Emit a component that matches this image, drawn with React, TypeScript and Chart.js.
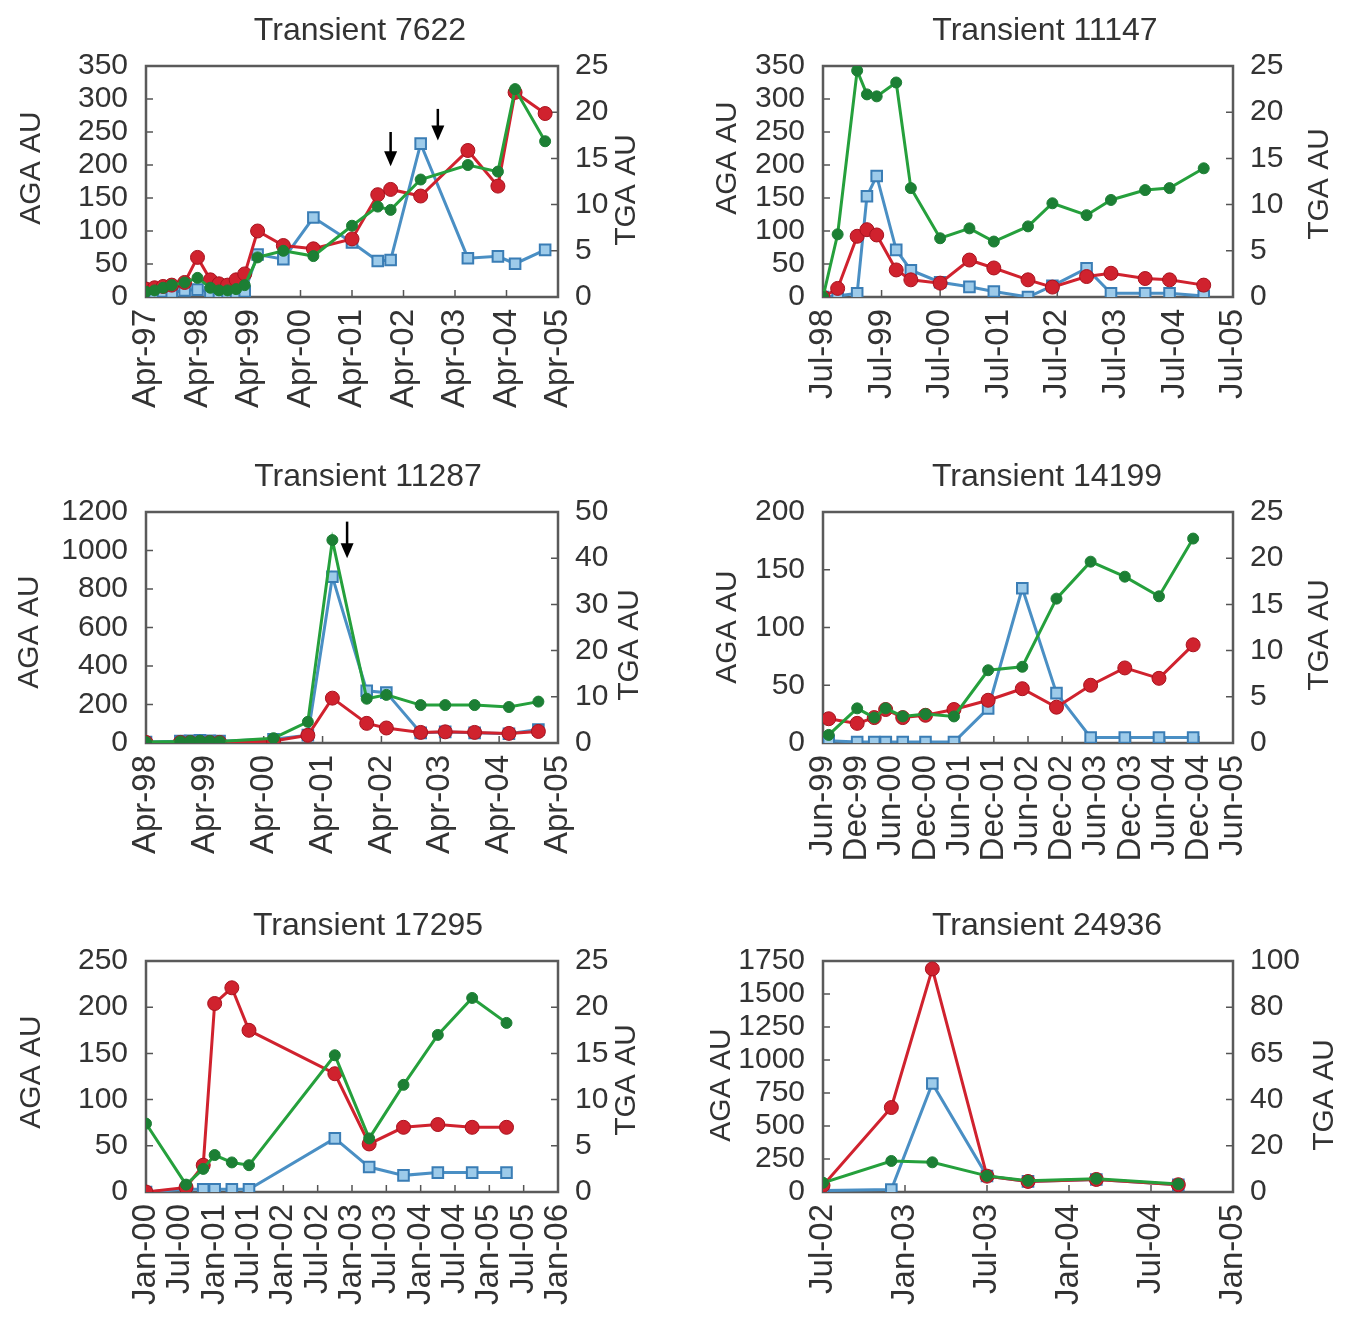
import React, { useEffect, useRef } from 'react';
import { Chart, registerables } from 'chart.js';
Chart.register(...registerables);

const FONT = "'Liberation Sans', Arial, Helvetica, sans-serif";
const MONTHS = ['Jan', 'Feb', 'Mar', 'Apr', 'May', 'Jun', 'Jul', 'Aug', 'Sep', 'Oct', 'Nov', 'Dec'];

const RED = '#d0222e';
const GREEN = '#25a03c';
const GREEN_PT = '#1c7f34';
const BLUE = '#4a8fc4';
const BLUE_FILL = '#9dcbea';
const BLUE_EDGE = '#3a7db5';
const TEXT = '#333';

// ---------- Transient 7622 ----------
const p1Title = 'Transient 7622';
const p1Dates = ['1997-04', '1997-06', '1997-08', '1997-10', '1998-01', '1998-04', '1998-07', '1998-09', '1998-11', '1999-01', '1999-03', '1999-06', '1999-12', '2000-07', '2001-04', '2001-10', '2002-01', '2002-08', '2003-07', '2004-02', '2004-06', '2005-01'];
const p1Red = [12, 14, 16, 18, 22, 60, 26, 20, 18, 26, 35, 100, 78, 73, 88, 155, 163, 153, 222, 168, 310, 278];
const p1Green = [8, 10, 14, 18, 22, 29, 14, 10, 10, 12, 18, 60, 70, 62, 108, 137, 132, 178, 200, 190, 315, 236];
const p1Blue = [0.4, 0.5, 0.6, 0.5, 0.7, 0.8, 0.5, 0.4, 0.5, 0.5, 0.6, 4.6, 4.1, 8.6, 5.9, 3.9, 4.0, 16.6, 4.2, 4.4, 3.6, 5.1];
const p1ArrowDates = ['2002-01', '2002-12'];
const p1ArrowFrom = [250, 285];
const p1ArrowTo = [198, 237];

// ---------- Transient 11147 ----------
const p2Title = 'Transient 11147';
const p2Dates = ['1998-07', '1998-10', '1999-02', '1999-04', '1999-06', '1999-10', '2000-01', '2000-07', '2001-01', '2001-06', '2002-01', '2002-06', '2003-01', '2003-06', '2004-01', '2004-06', '2005-01'];
const p2Red = [0, 13, 92, 102, 94, 41, 26, 21, 56, 44, 26, 15, 31, 36, 28, 26, 18];
const p2Green = [0, 95, 343, 307, 304, 325, 165, 89, 104, 84, 107, 142, 124, 147, 162, 165, 195];
const p2Blue = [0, 0.1, 0.4, 10.9, 13.1, 5.1, 2.9, 1.6, 1.1, 0.6, 0, 1.2, 3.1, 0.4, 0.4, 0.4, 0.1];

// ---------- Transient 11287 ----------
const p3Title = 'Transient 11287';
const p3Dates = ['1998-04', '1998-11', '1999-01', '1999-03', '1999-05', '1999-07', '2000-06', '2001-01', '2001-06', '2002-01', '2002-05', '2002-12', '2003-05', '2003-11', '2004-06', '2004-12'];
const p3Red = [3, 3, 3, 3, 3, 3, 10, 40, 233, 102, 78, 55, 58, 55, 50, 60];
const p3Green = [5, 8, 10, 12, 10, 8, 25, 110, 1054, 230, 250, 197, 197, 197, 187, 215];
const p3Blue = [0.2, 0.4, 0.5, 0.6, 0.5, 0.4, 0.8, 1.7, 36, 11.3, 10.9, 2.2, 2.4, 2.2, 2.0, 2.9];
const p3ArrowDates = ['2001-09'];
const p3ArrowFrom = [1150];
const p3ArrowTo = [960];

// ---------- Transient 14199 ----------
const p4Title = 'Transient 14199';
const p4Dates = ['1999-07', '1999-12', '2000-03', '2000-05', '2000-08', '2000-12', '2001-05', '2001-11', '2002-05', '2002-11', '2003-05', '2003-11', '2004-05', '2004-11'];
const p4Red = [21, 17, 22, 29, 22, 24, 29, 37, 47, 31, 50, 65, 56, 85];
const p4Green = [7, 30, 22, 30, 23, 25, 23, 63, 66, 125, 157, 144, 127, 177];
const p4Blue = [0.25, 0.1, 0.1, 0.1, 0.1, 0.1, 0.1, 3.75, 16.75, 5.4, 0.6, 0.6, 0.6, 0.6];

// ---------- Transient 17295 ----------
const p5Title = 'Transient 17295';
const p5Dates = ['2000-01', '2000-08', '2000-11', '2001-01', '2001-04', '2001-07', '2002-10', '2003-04', '2003-10', '2004-04', '2004-10', '2005-04'];
const p5Red = [0, 5, 29, 204, 221, 175, 128, 52, 70, 73, 70, 70];
const p5Green = [74, 8, 25, 40, 32, 29, 148, 58, 116, 170, 210, 183];
const p5Blue = [0, 0.3, 0.3, 0.3, 0.3, 0.3, 5.8, 2.7, 1.8, 2.1, 2.1, 2.1];

// ---------- Transient 24936 ----------
const p6Title = 'Transient 24936';
const p6Dates = ['2002-07', '2002-12', '2003-03', '2003-07', '2003-10', '2004-03', '2004-09'];
const p6Red = [50, 640, 1690, 120, 80, 95, 55];
const p6Green = [70, 235, 225, 122, 85, 100, 60];
const p6Blue = [0.6, 1.1, 47, 6.9, 4.6, 5.4, 3.1];
const p6TgaTickLabels = ['0', '20', '40', '65', '80', '100'];

const W = 675;
const H = 425;

function toM(s: string): number {
  const [y, m] = s.split('-');
  return parseInt(y, 10) * 12 + parseInt(m, 10) - 1;
}
function fmtM(v: number): string {
  const y = Math.floor(v / 12);
  const m = v - y * 12;
  return MONTHS[m] + '-' + String(y % 100).padStart(2, '0');
}

interface PanelCfg {
  title: string;
  dates: string[];
  red: number[];
  green: number[];
  blue: number[];
  xStart: string;
  xEnd: string;
  xStep: number;
  yMax: number;
  yStep: number;
  y1Max: number;
  y1Step: number;
  y1Labels?: string[];
  arrowDates?: string[];
  arrowFrom?: number[];
  arrowTo?: number[];
  left: number;
  top: number;
  leftW: number;
  titleX: number;
  leftTitleX: number;
  leftTitleY: number;
  rightTitleX: number;
  rightTitleY: number;
}

const panels: PanelCfg[] = [
  { title: p1Title, dates: p1Dates, red: p1Red, green: p1Green, blue: p1Blue, xStart: '1997-04', xEnd: '2005-04', xStep: 12, yMax: 350, yStep: 50, y1Max: 25, y1Step: 5, arrowDates: p1ArrowDates, arrowFrom: p1ArrowFrom, arrowTo: p1ArrowTo, left: 0, top: 0, leftW: 146, titleX: 360, leftTitleX: 32, leftTitleY: 168, rightTitleX: 627, rightTitleY: 190 },
  { title: p2Title, dates: p2Dates, red: p2Red, green: p2Green, blue: p2Blue, xStart: '1998-07', xEnd: '2005-07', xStep: 12, yMax: 350, yStep: 50, y1Max: 25, y1Step: 5, left: 675, top: 0, leftW: 148, titleX: 370, leftTitleX: 53, leftTitleY: 158, rightTitleX: 645, rightTitleY: 184 },
  { title: p3Title, dates: p3Dates, red: p3Red, green: p3Green, blue: p3Blue, xStart: '1998-04', xEnd: '2005-04', xStep: 12, yMax: 1200, yStep: 200, y1Max: 50, y1Step: 10, arrowDates: p3ArrowDates, arrowFrom: p3ArrowFrom, arrowTo: p3ArrowTo, left: 0, top: 446, leftW: 146, titleX: 368, leftTitleX: 30, leftTitleY: 186, rightTitleX: 630, rightTitleY: 199 },
  { title: p4Title, dates: p4Dates, red: p4Red, green: p4Green, blue: p4Blue, xStart: '1999-06', xEnd: '2005-06', xStep: 6, yMax: 200, yStep: 50, y1Max: 25, y1Step: 5, left: 675, top: 446, leftW: 148, titleX: 372, leftTitleX: 53, leftTitleY: 181, rightTitleX: 645, rightTitleY: 189 },
  { title: p5Title, dates: p5Dates, red: p5Red, green: p5Green, blue: p5Blue, xStart: '2000-01', xEnd: '2006-01', xStep: 6, yMax: 250, yStep: 50, y1Max: 25, y1Step: 5, left: 0, top: 895, leftW: 146, titleX: 368, leftTitleX: 32, leftTitleY: 177, rightTitleX: 627, rightTitleY: 185 },
  { title: p6Title, dates: p6Dates, red: p6Red, green: p6Green, blue: p6Blue, xStart: '2002-07', xEnd: '2005-01', xStep: 6, yMax: 1750, yStep: 250, y1Max: 100, y1Step: 20, y1Labels: p6TgaTickLabels, left: 675, top: 895, leftW: 148, titleX: 372, leftTitleX: 47, leftTitleY: 190, rightTitleX: 650, rightTitleY: 200 },
];

function makeDecor(cfg: PanelCfg) {
  return {
    id: 'decor',
    beforeDatasetsDraw(chart: any) {
      const { ctx, chartArea: a, scales } = chart;
      ctx.save();
      ctx.strokeStyle = '#555';
      ctx.lineWidth = 1.5;
      ctx.beginPath();
      scales.y.ticks.forEach((t: any) => {
        const py = scales.y.getPixelForValue(t.value);
        ctx.moveTo(a.left, py);
        ctx.lineTo(a.left + 7, py);
      });
      scales.y1.ticks.forEach((t: any) => {
        const py = scales.y1.getPixelForValue(t.value);
        ctx.moveTo(a.right, py);
        ctx.lineTo(a.right - 7, py);
      });
      scales.x.ticks.forEach((t: any) => {
        const px = scales.x.getPixelForValue(t.value);
        ctx.moveTo(px, a.bottom);
        ctx.lineTo(px, a.bottom - 7);
      });
      ctx.stroke();
      ctx.lineWidth = 2.5;
      ctx.strokeStyle = '#5a5a5a';
      ctx.strokeRect(a.left, a.top, a.right - a.left, a.bottom - a.top);
      ctx.restore();
    },
    afterDraw(chart: any) {
      const { ctx, scales } = chart;
      ctx.save();
      ctx.fillStyle = TEXT;
      ctx.textAlign = 'center';
      ctx.textBaseline = 'middle';
      ctx.font = `32px ${FONT}`;
      ctx.fillText(cfg.title, cfg.titleX, 31);
      ctx.font = `30px ${FONT}`;
      ctx.save();
      ctx.translate(cfg.leftTitleX, cfg.leftTitleY);
      ctx.rotate(-Math.PI / 2);
      ctx.fillText('AGA AU', 0, 0);
      ctx.restore();
      ctx.save();
      ctx.translate(cfg.rightTitleX, cfg.rightTitleY);
      ctx.rotate(-Math.PI / 2);
      ctx.fillText('TGA AU', 0, 0);
      ctx.restore();
      if (cfg.arrowDates) {
        cfg.arrowDates.forEach((d, i) => {
          const px = scales.x.getPixelForValue(toM(d));
          const y0 = scales.y.getPixelForValue(cfg.arrowFrom![i]);
          const y1 = scales.y.getPixelForValue(cfg.arrowTo![i]);
          ctx.strokeStyle = '#000';
          ctx.fillStyle = '#000';
          ctx.lineWidth = 2.5;
          ctx.beginPath();
          ctx.moveTo(px, y0);
          ctx.lineTo(px, y1 - 12);
          ctx.stroke();
          ctx.beginPath();
          ctx.moveTo(px - 6.5, y1 - 15);
          ctx.lineTo(px + 6.5, y1 - 15);
          ctx.lineTo(px, y1);
          ctx.closePath();
          ctx.fill();
        });
      }
      ctx.restore();
    },
  };
}

function Panel({ cfg }: { cfg: PanelCfg }) {
  const ref = useRef<HTMLCanvasElement>(null);
  useEffect(() => {
    const xs = cfg.dates.map(toM);
    const xMin = toM(cfg.xStart);
    const xMax = toM(cfg.xEnd);
    const xTicks: number[] = [];
    for (let v = xMin; v <= xMax; v += cfg.xStep) xTicks.push(v);

    const chart = new Chart(ref.current!, {
      type: 'line',
      data: {
        datasets: [
          {
            label: 'AGA red',
            data: xs.map((x, i) => ({ x, y: cfg.red[i] })),
            yAxisID: 'y',
            borderColor: RED,
            backgroundColor: RED,
            pointBackgroundColor: RED,
            pointBorderColor: '#a8121e',
            pointRadius: 7,
            pointBorderWidth: 1,
            borderWidth: 3,
            tension: 0,
            order: 1,
          },
          {
            label: 'AGA green',
            data: xs.map((x, i) => ({ x, y: cfg.green[i] })),
            yAxisID: 'y',
            borderColor: GREEN,
            backgroundColor: GREEN_PT,
            pointBackgroundColor: GREEN_PT,
            pointBorderColor: GREEN_PT,
            pointRadius: 5.5,
            pointBorderWidth: 1,
            borderWidth: 3,
            tension: 0,
            order: 0,
          },
          {
            label: 'TGA',
            data: xs.map((x, i) => ({ x, y: cfg.blue[i] })),
            yAxisID: 'y1',
            borderColor: BLUE,
            backgroundColor: BLUE_FILL,
            pointBackgroundColor: BLUE_FILL,
            pointBorderColor: BLUE_EDGE,
            pointStyle: 'rect',
            pointRadius: 7.5,
            pointBorderWidth: 2,
            borderWidth: 3,
            tension: 0,
            order: 2,
          },
        ],
      },
      options: {
        responsive: false,
        maintainAspectRatio: false,
        animation: false,
        devicePixelRatio: 1,
        layout: { padding: { top: 66, left: 0, right: 0, bottom: 0 } },
        plugins: { legend: { display: false }, tooltip: { enabled: false }, title: { display: false } },
        scales: {
          x: {
            type: 'linear',
            min: xMin,
            max: xMax,
            grid: { display: false },
            border: { display: false },
            afterBuildTicks: (s: any) => {
              s.ticks = xTicks.map((v) => ({ value: v }));
            },
            afterFit: (s: any) => {
              s.height = H - 297;
            },
            ticks: {
              autoSkip: false,
              minRotation: 90,
              maxRotation: 90,
              padding: 4,
              color: TEXT,
              font: { family: FONT, size: 33, lineHeight: 1 },
              callback: (v: any) => fmtM(Number(v)),
            },
          },
          y: {
            type: 'linear',
            position: 'left',
            min: 0,
            max: cfg.yMax,
            grid: { display: false },
            border: { display: false },
            afterFit: (s: any) => {
              s.width = cfg.leftW;
            },
            ticks: {
              stepSize: cfg.yStep,
              autoSkip: false,
              padding: 10,
              color: TEXT,
              font: { family: FONT, size: 30, lineHeight: 1 },
              callback: (v: any) => String(v),
            },
          },
          y1: {
            type: 'linear',
            position: 'right',
            min: 0,
            max: cfg.y1Max,
            grid: { display: false },
            border: { display: false },
            afterFit: (s: any) => {
              s.width = W - 558;
            },
            ticks: {
              stepSize: cfg.y1Step,
              autoSkip: false,
              padding: 9,
              color: TEXT,
              font: { family: FONT, size: 30, lineHeight: 1 },
              callback: (v: any, i: number) => (cfg.y1Labels ? cfg.y1Labels[i] : String(v)),
            },
          },
        },
      },
      plugins: [makeDecor(cfg)],
    } as any);
    return () => chart.destroy();
  }, []);
  return (
    <div style={{ position: 'absolute', left: cfg.left, top: cfg.top, width: W, height: H }}>
      <canvas ref={ref} width={W} height={H} style={{ width: W, height: H, display: 'block' }} />
    </div>
  );
}

export default function App() {
  return (
    <div style={{ position: 'absolute', left: 0, top: 0, width: 1350, height: 1322, overflow: 'hidden', background: '#fff' }}>
      {panels.map((p, i) => (
        <Panel key={i} cfg={p} />
      ))}
    </div>
  );
}
